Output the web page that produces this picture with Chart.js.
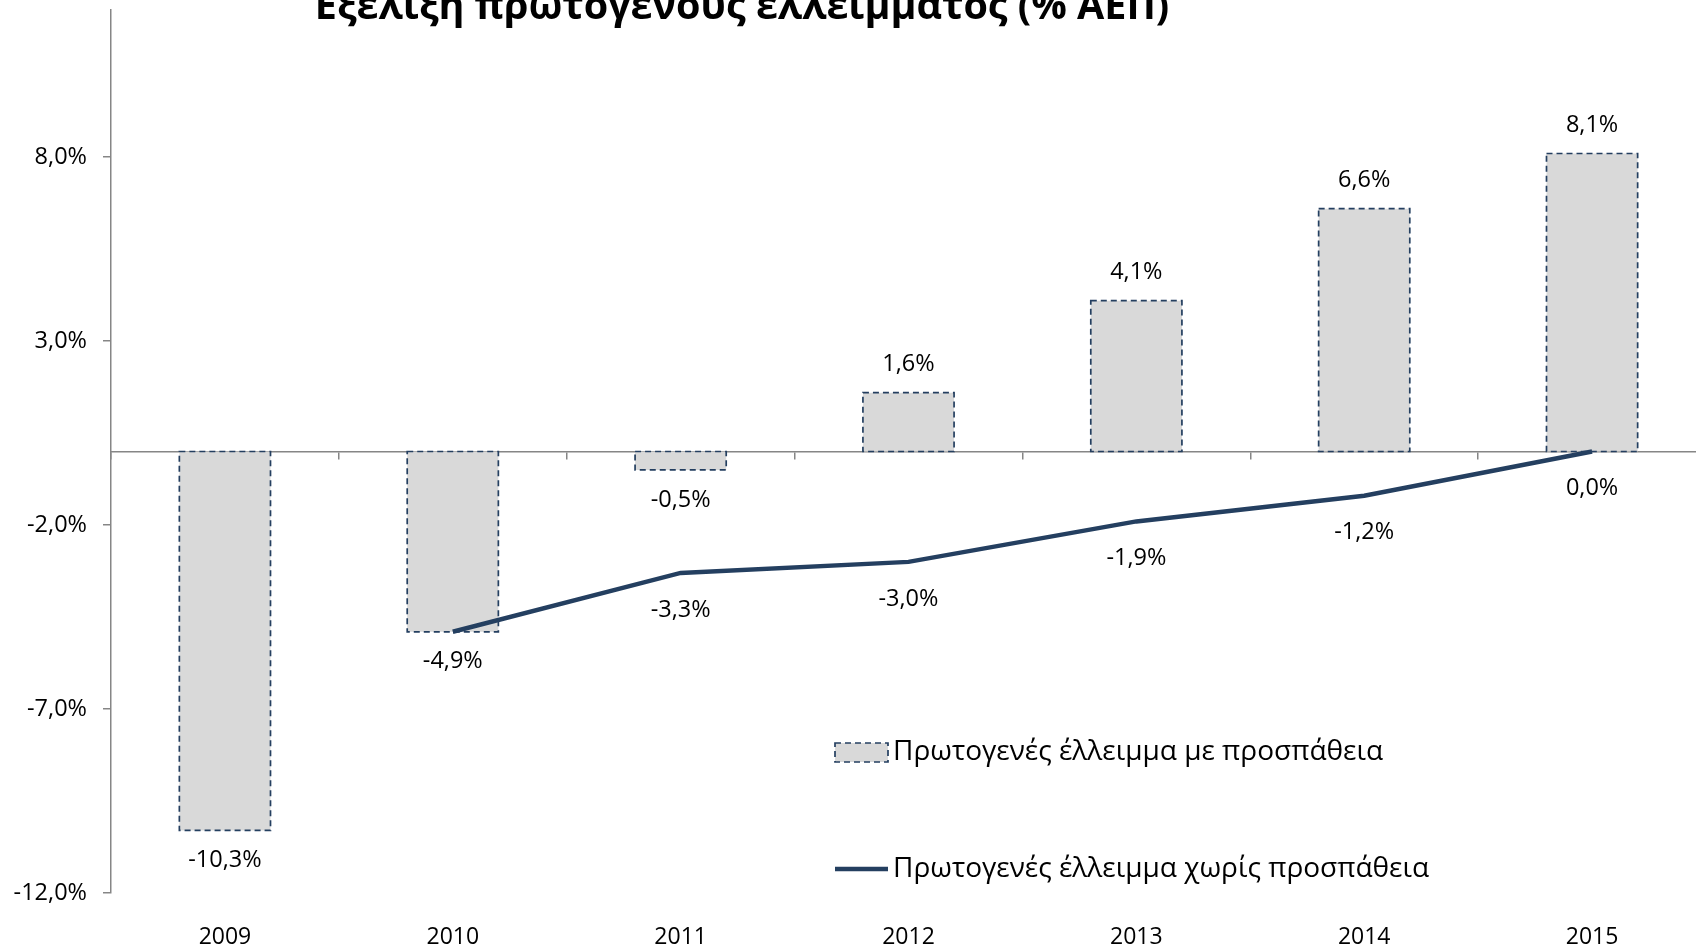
<!DOCTYPE html>
<html><head><meta charset="utf-8">
<script src="https://cdn.jsdelivr.net/npm/chart.js@4.4.0/dist/chart.umd.min.js"></script>
<style>
html,body{margin:0;padding:0;background:#fff;overflow:hidden;width:1696px;height:947px;}
#wrap{position:absolute;left:0;top:0;width:1712px;height:947px;}
</style></head><body>
<div id="wrap"><canvas id="c"></canvas></div>
<script>
const categories = ['2009','2010','2011','2012','2013','2014','2015'];
const withEffort = [-10.3, -4.9, -0.5, 1.6, 4.1, 6.6, 8.1];
const withoutEffort = [null, -4.9, -3.3, -3.0, -1.9, -1.2, 0.0];
const yTickValues = [-12, -7, -2, 3, 8];
const seriesNames = ['Πρωτογενές έλλειμμα με προσπάθεια', 'Πρωτογενές έλλειμμα χωρίς προσπάθεια'];
const chartTitle = 'Εξέλιξη πρωτογενούς ελλείμματος (% ΑΕΠ)';

const FONT = '"Open Sans", "Noto Sans", sans-serif';
const NAVY = '#243f60';
const BARFILL = '#d9d9d9';
const AXISGRAY = '#868686';
const fmt = v => v.toFixed(1).replace('.', ',') + '%';

const dashedBars = {
  id: 'dashedBars',
  afterDatasetDraw(chart, args) {
    if (args.index !== 0) return;
    const ctx = chart.ctx;
    const meta = chart.getDatasetMeta(0);
    ctx.save();
    ctx.strokeStyle = NAVY;
    ctx.lineWidth = 1.7;
    ctx.setLineDash([6, 4]);
    meta.data.forEach(el => {
      const p = el.getProps(['x', 'y', 'base', 'width'], true);
      const l = p.x - p.width / 2, r = p.x + p.width / 2;
      const t = Math.min(p.y, p.base), b = Math.max(p.y, p.base);
      ctx.strokeRect(l, t, r - l, b - t);
    });
    ctx.restore();
  }
};

const valueLabels = {
  id: 'valueLabels',
  afterDatasetsDraw(chart) {
    const ctx = chart.ctx;
    ctx.save();
    ctx.font = '23.5px ' + FONT;
    ctx.fillStyle = '#000';
    ctx.textAlign = 'center';
    ctx.textBaseline = 'middle';
    chart.getDatasetMeta(0).data.forEach((el, i) => {
      const v = withEffort[i];
      const y = v >= 0 ? el.y - 28 : el.y + 30;
      ctx.fillText(fmt(v), el.x, y);
    });
    chart.getDatasetMeta(1).data.forEach((el, i) => {
      const v = withoutEffort[i];
      if (v === null || v === withEffort[i]) return; // same label already shown by the bar
      ctx.fillText(fmt(v), el.x, el.y + 37);
    });
    ctx.restore();
  }
};

const legendAndTitle = {
  id: 'legendAndTitle',
  afterDraw(chart) {
    const ctx = chart.ctx;
    ctx.save();
    ctx.font = 'bold 39.5px ' + FONT;
    ctx.fillStyle = '#000';
    ctx.textAlign = 'center';
    ctx.textBaseline = 'alphabetic';
    ctx.fillText(chartTitle, 742, 19);
    ctx.font = '28px ' + FONT;
    ctx.textAlign = 'left';
    ctx.textBaseline = 'middle';
    ctx.fillStyle = BARFILL;
    ctx.fillRect(835, 743, 53, 19);
    ctx.strokeStyle = NAVY;
    ctx.lineWidth = 1.7;
    ctx.setLineDash([6, 4]);
    ctx.strokeRect(835, 743, 53, 19);
    ctx.setLineDash([]);
    ctx.fillStyle = '#000';
    ctx.fillText(seriesNames[0], 893, 752);
    ctx.strokeStyle = NAVY;
    ctx.lineWidth = 4.5;
    ctx.beginPath();
    ctx.moveTo(835, 869);
    ctx.lineTo(888, 869);
    ctx.stroke();
    ctx.fillText(seriesNames[1], 893, 869);
    ctx.restore();
  }
};

new Chart(document.getElementById('c'), {
  data: {
    labels: categories,
    datasets: [
      {
        type: 'bar',
        label: seriesNames[0],
        data: withEffort,
        backgroundColor: BARFILL,
        borderWidth: 0,
        barPercentage: 0.4,
        categoryPercentage: 1.0,
        xAxisID: 'x',
        yAxisID: 'y',
        order: 2
      },
      {
        type: 'line',
        label: seriesNames[1],
        data: withoutEffort,
        borderColor: NAVY,
        borderWidth: 4.5,
        pointRadius: 0,
        pointHoverRadius: 0,
        tension: 0,
        fill: false,
        xAxisID: 'x',
        yAxisID: 'y',
        order: 1
      }
    ]
  },
  options: {
    responsive: true,
    maintainAspectRatio: false,
    animation: false,
    events: [],
    layout: { padding: { top: 10, right: 6, left: 0, bottom: 0 } },
    plugins: {
      legend: { display: false },
      title: { display: false },
      tooltip: { enabled: false }
    },
    scales: {
      x: {
        type: 'category',
        position: 'bottom',
        offset: true,
        grid: { display: false, drawTicks: false },
        border: { display: false },
        ticks: { color: '#000', font: { family: FONT, size: 23 }, padding: 31, maxRotation: 0 },
        afterFit(scale) { scale.height = 54; scale.paddingLeft = 0; scale.paddingRight = 0; }
      },
      x2: {
        type: 'category',
        position: { y: 0 },
        offset: true,
        grid: { drawOnChartArea: false, drawTicks: true, tickLength: 7, color: AXISGRAY, lineWidth: 1.5, offset: true },
        border: { display: true, color: AXISGRAY, width: 1.5 },
        ticks: { display: false }
      },
      y: {
        type: 'linear',
        position: 'left',
        min: -12,
        max: 12,
        afterBuildTicks(scale) { scale.ticks = yTickValues.map(v => ({ value: v })); },
        grid: { drawOnChartArea: false, drawTicks: true, tickLength: 8, color: AXISGRAY, lineWidth: 1.5 },
        border: { display: true, color: AXISGRAY, width: 1.5 },
        ticks: {
          color: '#000',
          font: { family: FONT, size: 23.5 },
          padding: 16,
          callback: v => fmt(v)
        },
        afterFit(scale) { scale.width = 111; scale.paddingTop = 0; scale.paddingBottom = 0; }
      }
    }
  },
  plugins: [dashedBars, valueLabels, legendAndTitle]
});
</script>
</body></html>
